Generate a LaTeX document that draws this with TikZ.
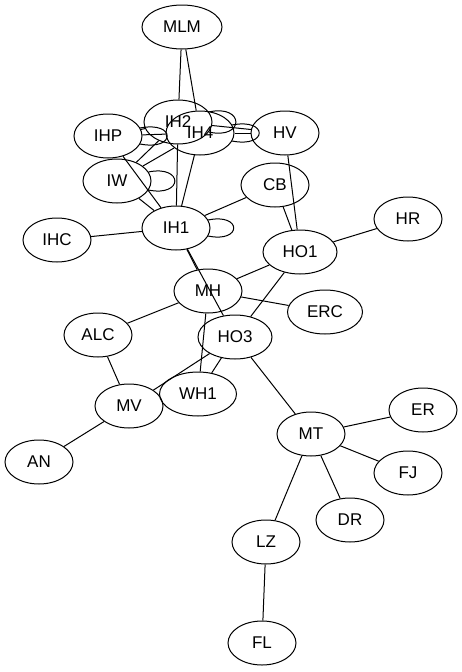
\documentclass[tikz,border=0pt]{standalone}
\usepackage{fontspec}
\setmainfont{Liberation Sans}
\usetikzlibrary{shapes.geometric}
\begin{document}
\begin{tikzpicture}[x=1pt,y=-1pt,
  nd/.style={ellipse,draw,line width=1pt,inner sep=0pt,minimum width=68pt,minimum height=44pt,font=\fontsize{17}{20}\selectfont},
  ed/.style={line width=1pt}]
\useasboundingbox[fill=white] (0,0) rectangle (462,672);
\node[nd,minimum width=80pt] (MLM) at (182,27) {MLM};
\node[nd] (IH2) at (178,122) {IH2};
\node[nd] (IH4) at (200,133) {IH4};
\node[nd] (IHP) at (108,136) {IHP};
\node[nd] (HV) at (285,133) {HV};
\node[nd] (IW) at (117,181) {IW};
\node[nd] (CB) at (275,185) {CB};
\node[nd] (IH1) at (176,228) {IH1};
\node[nd] (IHC) at (57,240) {IHC};
\node[nd,minimum width=74pt] (HO1) at (300,252) {HO1};
\node[nd] (HR) at (408,219) {HR};
\node[nd] (MH) at (208,291) {MH};
\node[nd,minimum width=75pt] (ERC) at (325,312) {ERC};
\node[nd] (ALC) at (98,335) {ALC};
\node[nd,minimum width=74pt] (HO3) at (235,337) {HO3};
\node[nd,minimum width=77pt] (WH1) at (198,394) {WH1};
\node[nd] (MV) at (129,406) {MV};
\node[nd] (AN) at (39,462) {AN};
\node[nd] (MT) at (311,434) {MT};
\node[nd] (ER) at (423,410) {ER};
\node[nd] (FJ) at (408,473) {FJ};
\node[nd] (DR) at (350,520) {DR};
\node[nd] (LZ) at (266,542) {LZ};
\node[nd] (FL) at (262,643) {FL};
\begin{scope}[ed]
\draw (MLM) -- (IH2);
\draw (MLM) -- (IH4);
\draw (IHP) -- (IH2);
\draw (IHP) -- (IH4);
\draw (IW) -- (IH2);
\draw (IW) -- (IH4);
\draw (IHP) -- (IH1);
\draw (IW) -- (IH1);
\draw (IH2) -- (IH1);
\draw (IH4) -- (IH1);
\draw (IH2) -- (HV);
\draw (IH4) -- (HV);
\draw (HV) -- (HO1);
\draw (IH1) -- (CB);
\draw (CB) -- (HO1);
\draw (IHC) -- (IH1);
\draw (HO1) -- (HR);
\draw (IH1) -- (MH);
\draw (IH1) -- (HO3);
\draw (HO1) -- (MH);
\draw (HO1) -- (HO3);
\draw (MH) -- (ERC);
\draw (MH) -- (ALC);
\draw (MH) -- (WH1);
\draw (HO3) -- (WH1);
\draw (HO3) -- (MV);
\draw (ALC) -- (MV);
\draw (MV) -- (AN);
\draw (HO3) -- (MT);
\draw (MT) -- (ER);
\draw (MT) -- (FJ);
\draw (MT) -- (DR);
\draw (MT) -- (LZ);
\draw (LZ) -- (FL);
% self loops
\draw (IH1.14) .. controls +(34,-7) and +(34,7) .. (IH1.-14);
\draw (IW.16) .. controls +(35,-7) and +(35,7) .. (IW.-16);
\draw (IHP.14) .. controls +(36,-7) and +(36,7) .. (IHP.-14);
\draw (IH2.18) .. controls +(36,-8) and +(36,8) .. (IH2.-18);
\draw (IH4.14) .. controls +(36,-7) and +(36,7) .. (IH4.-14);
\end{scope}
\end{tikzpicture}
\end{document}
